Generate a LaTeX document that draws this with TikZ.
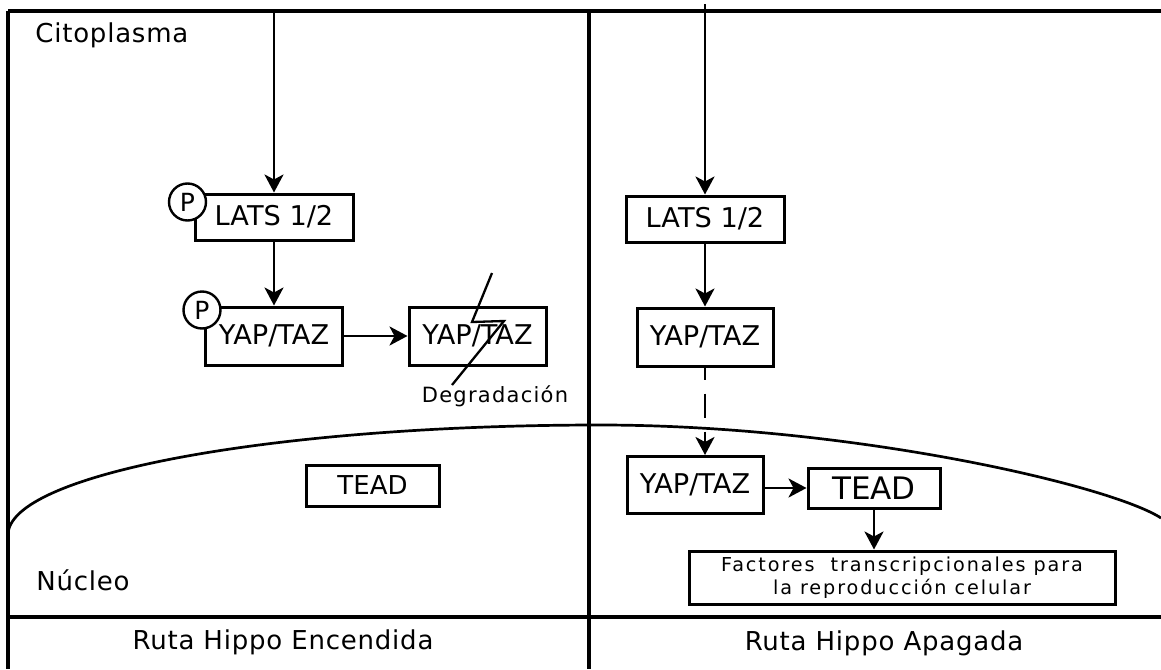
\documentclass[tikz,border=0pt]{standalone}
\usepackage{fontspec}
\setmainfont{DejaVu Sans}
\newfontfamily\widefont[LetterSpace=3]{DejaVu Sans}
\newfontfamily\smallfont[LetterSpace=6]{DejaVu Sans}
\newfontfamily\tinyfont[LetterSpace=10]{DejaVu Sans}
\usetikzlibrary{arrows.meta}

\tikzset{
  prot/.style={draw, line width=1.5pt, inner sep=0pt, font=\fontsize{13.6}{15}\selectfont},
  phos/.style={draw, circle, fill=white, line width=1.2pt, minimum size=18.5pt, inner sep=0pt, font=\fontsize{12.5}{14}\selectfont},
  flow/.style={line width=1.4pt, -{Stealth[length=9pt,width=9.5pt,inset=2.5pt]}},
  wall/.style={line width=1.75pt},
  tag/.style={inner sep=0pt, font=\widefont\fontsize{13}{15}\selectfont},
}

\begin{document}
\begin{tikzpicture}[x=0.5pt,y=-0.5pt]
\useasboundingbox (0,0) rectangle (1161,669);

% frame:
\draw[wall] (8,11) -- (1161,11);
\draw[wall] (8,11) -- (8,669);
\draw[wall] (589,11) -- (589,669);
\draw[wall] (8,617) -- (1161,617);

% nuclear envelope:
\draw[line width=1.35pt] (8,535) .. controls (8,474) and (273,425) .. (600,425)
  .. controls (850,425) and (1110,485) .. (1161,518);

% compartments and pathway states:
\node[tag, anchor=base west] (cito) at (35,42) {Citoplasma};
\node[tag, anchor=base west] (nucleo) at (36,590) {Núcleo};
\node[tag, anchor=base] (encendida) at (283,649) {Ruta Hippo Encendida};
\node[tag, anchor=base] (apagada) at (884,650) {Ruta Hippo Apagada};

% pathway on:
\node[prot, minimum width=79pt, minimum height=23pt] (latsL) at (274,217) {LATS 1/2};
\node[prot, minimum width=68.5pt, minimum height=29pt] (yapL) at (274,336) {YAP/TAZ};
\node[prot, minimum width=68.5pt, minimum height=29pt] (yapLd) at (477.5,336) {YAP/TAZ};
\node[prot, minimum width=66.5pt, minimum height=20.5pt, font=\fontsize{13}{15}\selectfont] (teadL) at (372.5,485.5) {TEAD};
\node[phos] (pLats) at (187.5,202) {P};
\node[phos] (pYap) at (202,310) {P};

\coordinate (inL) at (274,11);
\draw[flow] (inL) -- (latsL);
\draw[flow] (latsL) -- (yapL);
\draw[flow] (yapL) -- (yapLd);

% degradation mark:
\draw[line width=1.15pt] (492,273) -- (472,322) -- (504,321) -- (452,385);
\node[inner sep=0pt, anchor=base, font=\smallfont\fontsize{10.5}{12}\selectfont] (degr) at (495,402) {Degradación};

% pathway off:
\node[prot, minimum width=79pt, minimum height=23pt] (latsR) at (705,219) {LATS 1/2};
\node[prot, minimum width=68pt, minimum height=29pt] (yapR) at (705,337) {YAP/TAZ};
\node[prot, minimum width=68pt, minimum height=28.5pt] (yapN) at (695,485) {YAP/TAZ};
\node[prot, minimum width=66pt, minimum height=20pt, font=\fontsize{15.5}{17}\selectfont] (teadR) at (874,488) {TEAD};
\node[prot, minimum width=213pt, minimum height=26.5pt, align=center,
  font=\tinyfont\fontsize{9.6}{11.5}\selectfont] (factores) at (902,577.5)
  {Factores\ \ transcripcionales para\\la reproducción celular};

\coordinate (inR) at (705,4);
\draw[flow] (inR) -- (latsR);
\draw[flow] (latsR) -- (yapR);
\draw[flow, dash pattern=on 12pt off 7pt, dash phase=6pt] (yapR) -- (yapR.south |- yapN.north);
\draw[flow] (yapN.east |- teadR) -- (teadR.west);
\draw[flow] (teadR) -- (teadR.south |- factores.north);

\end{tikzpicture}
\end{document}
